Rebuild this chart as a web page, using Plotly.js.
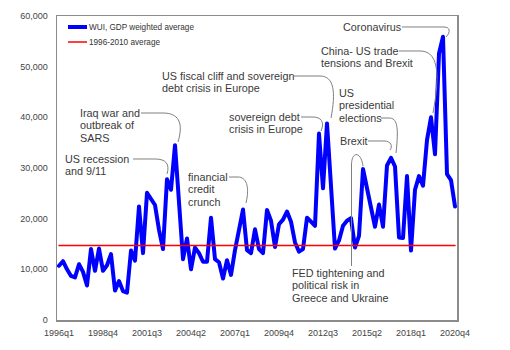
<!DOCTYPE html>
<html>
<head>
<meta charset="utf-8">
<script src="https://cdn.plot.ly/plotly-3.0.1.min.js"></script>
<style>
html,body{margin:0;padding:0;background:#fff;}
#chart{width:510px;height:350px;}
.scatterlayer .js-line{stroke-linejoin:round;stroke-linecap:round;}
</style>
</head>
<body>
<div id="chart"></div>
<script>
// Categories: quarters 1996q1 .. 2020q4
const years = [1996,1997,1998,1999,2000,2001,2002,2003,2004,2005,2006,2007,2008,2009,2010,2011,2012,2013,2014,2015,2016,2017,2018,2019,2020];
const quarters = ["q1","q2","q3","q4"];
const categories = [];
years.forEach(y => quarters.forEach(q => categories.push(y + q)));

// WUI, GDP weighted average
const wui = [
  10700, 11600, 10000, 8700, 8400, 11000, 9500, 6800, 14000, 9700,
  14100, 9700, 10800, 13000, 5800, 7700, 5700, 5400, 13700, 11700,
  22400, 13200, 25100, 23700, 22700, 17800, 14000, 27800, 25700, 34500,
  23000, 12000, 16100, 10000, 14300, 13200, 11500, 11500, 20200, 12000,
  11400, 8200, 11800, 8900, 13800, 18300, 21800, 13800, 13200, 17900,
  14000, 13200, 21700, 19600, 14400, 18900, 19800, 21400, 19400, 15300,
  13500, 14000, 20200, 19400, 18600, 36800, 26000, 38800, 25000, 14100,
  15700, 18600, 19600, 20100, 14300, 16600, 29800, 25700, 22000, 18400,
  22800, 18400, 30500, 32000, 30300, 16300, 16200, 28400, 13700, 25700,
  28400, 26500, 35500, 40000, 32700, 52600, 55900, 28800, 27600, 22400
];

// 1996-2010 average
const avgValue = 14700;
const avgLine = categories.map(() => avgValue);

// Tick labels
const tickLabels = ["1996q1","1998q4","2001q3","2004q2","2007q1","2009q4","2012q3","2015q2","2018q1","2020q4"];
const yTicks = [0, 10000, 20000, 30000, 40000, 50000, 60000];

// Series names
const seriesNames = ["WUI, GDP weighted average", "1996-2010 average"];

// Event labels (lines of text)
const events = [
  {lines:["Iraq war and","outbreak of","SARS"], px:79, py:113},
  {lines:["US recession","and 9/11"], px:64, py:159},
  {lines:["financial","credit","crunch"], px:187, py:177},
  {lines:["US fiscal cliff and sovereign","debt crisis in Europe"], px:161, py:76},
  {lines:["sovereign debt","crisis in Europe"], px:228, py:117},
  {lines:["US","presidential","elections"], px:338, py:93},
  {lines:["Brexit"], px:339, py:141},
  {lines:["China- US trade","tensions and Brexit"], px:320, py:51},
  {lines:["Coronavirus"], px:342, py:27},
  {lines:["FED tightening and","political risk in","Greece and Ukraine"], px:291, py:273}
];

// Leader lines (pixel-space callout curves)
const leaders = [
  [["M",141,113],["L",163,113],["C",178,113,184,122,178,142]],
  [["M",133,159],["L",155,159],["C",166,159,170,164,167,174]],
  [["M",229,177],["L",238,177],["C",246,177,250,186,246,203]],
  [["M",294,76],["L",320,76],["C",334,76,336,92,331,118]],
  [["M",301,117],["L",313,117],["C",321,117,325,122,321,131]],
  [["M",381,118],["L",389,118],["C",397,118,399,126,396,153]],
  [["M",368,141],["L",384,141],["C",391,141,393,146,390,150]],
  [["M",399,51],["L",420,51],["C",437,51,441,70,433,113]],
  [["M",402,27],["L",444,27],["C",450,27,451,32,446,37]],
  [["M",351.5,266],["L",351.5,165],["C",351.5,151,361,151,363,166]]
];

// plot area geometry (pixels)
const L = 57, T = 16, W = 400, H = 304;
const fx = px => (px - L) / W;
const fy = py => (T + H - py) / H;

const textFont = {family:"Liberation Sans, Arial, sans-serif", size:10.8, color:"#3a3a3a"};
const lineGap = 12.4;

const annotations = [];
events.forEach(ev => {
  ev.lines.forEach((ln, k) => {
    annotations.push({
      xref:"paper", yref:"paper", x:fx(ev.px - 1), y:fy(ev.py + k*lineGap),
      xanchor:"left", yanchor:"middle", text:ln, showarrow:false, font:textFont
    });
  });
});

const shapes = leaders.map(segs => {
  const d = segs.map(s => {
    const c = s[0]; const pts = [];
    for (let i = 1; i < s.length; i += 2) pts.push(fx(s[i]).toFixed(5) + "," + fy(s[i+1]).toFixed(5));
    return c + pts.join(" ");
  }).join(" ");
  return {type:"path", xref:"paper", yref:"paper", path:d, line:{color:"#7f7f7f", width:1}, layer:"above"};
});

// manual legend
const legendFont = {family:"Liberation Sans, Arial, sans-serif", size:8.2, color:"#333"};
shapes.push({type:"line", xref:"paper", yref:"paper", x0:fx(68), x1:fx(87), y0:fy(27), y1:fy(27), line:{color:"#0000ff", width:4}});
shapes.push({type:"line", xref:"paper", yref:"paper", x0:fx(68), x1:fx(87), y0:fy(42), y1:fy(42), line:{color:"#ff0000", width:1.5}});
annotations.push({xref:"paper", yref:"paper", x:fx(87), y:fy(27), xanchor:"left", yanchor:"middle", text:seriesNames[0], showarrow:false, font:legendFont});
annotations.push({xref:"paper", yref:"paper", x:fx(87), y:fy(42), xanchor:"left", yanchor:"middle", text:seriesNames[1], showarrow:false, font:legendFont});

const traces = [
  {x:categories, y:wui, type:"scatter", mode:"lines", name:seriesNames[0], line:{color:"#0000ff", width:4}},
  {x:categories, y:avgLine, type:"scatter", mode:"lines", name:seriesNames[1], line:{color:"#ff0000", width:1.5}}
];

const axisFont = {family:"Liberation Sans, Arial, sans-serif", size:9, color:"#444"};
const layout = {
  width:510, height:350,
  margin:{l:L, r:510-L-W, t:T, b:350-T-H, pad:0},
  paper_bgcolor:"#fff", plot_bgcolor:"#fff",
  showlegend:false,
  xaxis:{type:"category", range:[-0.5, 99.5], tickmode:"array", tickvals:tickLabels, ticktext:tickLabels,
         showgrid:false, zeroline:false, showline:true, mirror:true, linecolor:"#8c8c8c", linewidth:1.5,
         ticks:"", tickfont:axisFont, ticklabelstandoff:4, fixedrange:true},
  yaxis:{range:[0,60000], tickmode:"array", tickvals:yTicks, tickformat:",d",
         showgrid:false, zeroline:false, showline:true, mirror:true, linecolor:"#8c8c8c", linewidth:1.5,
         ticks:"", tickfont:axisFont, ticklabelstandoff:6, fixedrange:true},
  annotations:annotations,
  shapes:shapes
};

Plotly.newPlot("chart", traces, layout, {staticPlot:true, displayModeBar:false});
</script>
</body>
</html>
